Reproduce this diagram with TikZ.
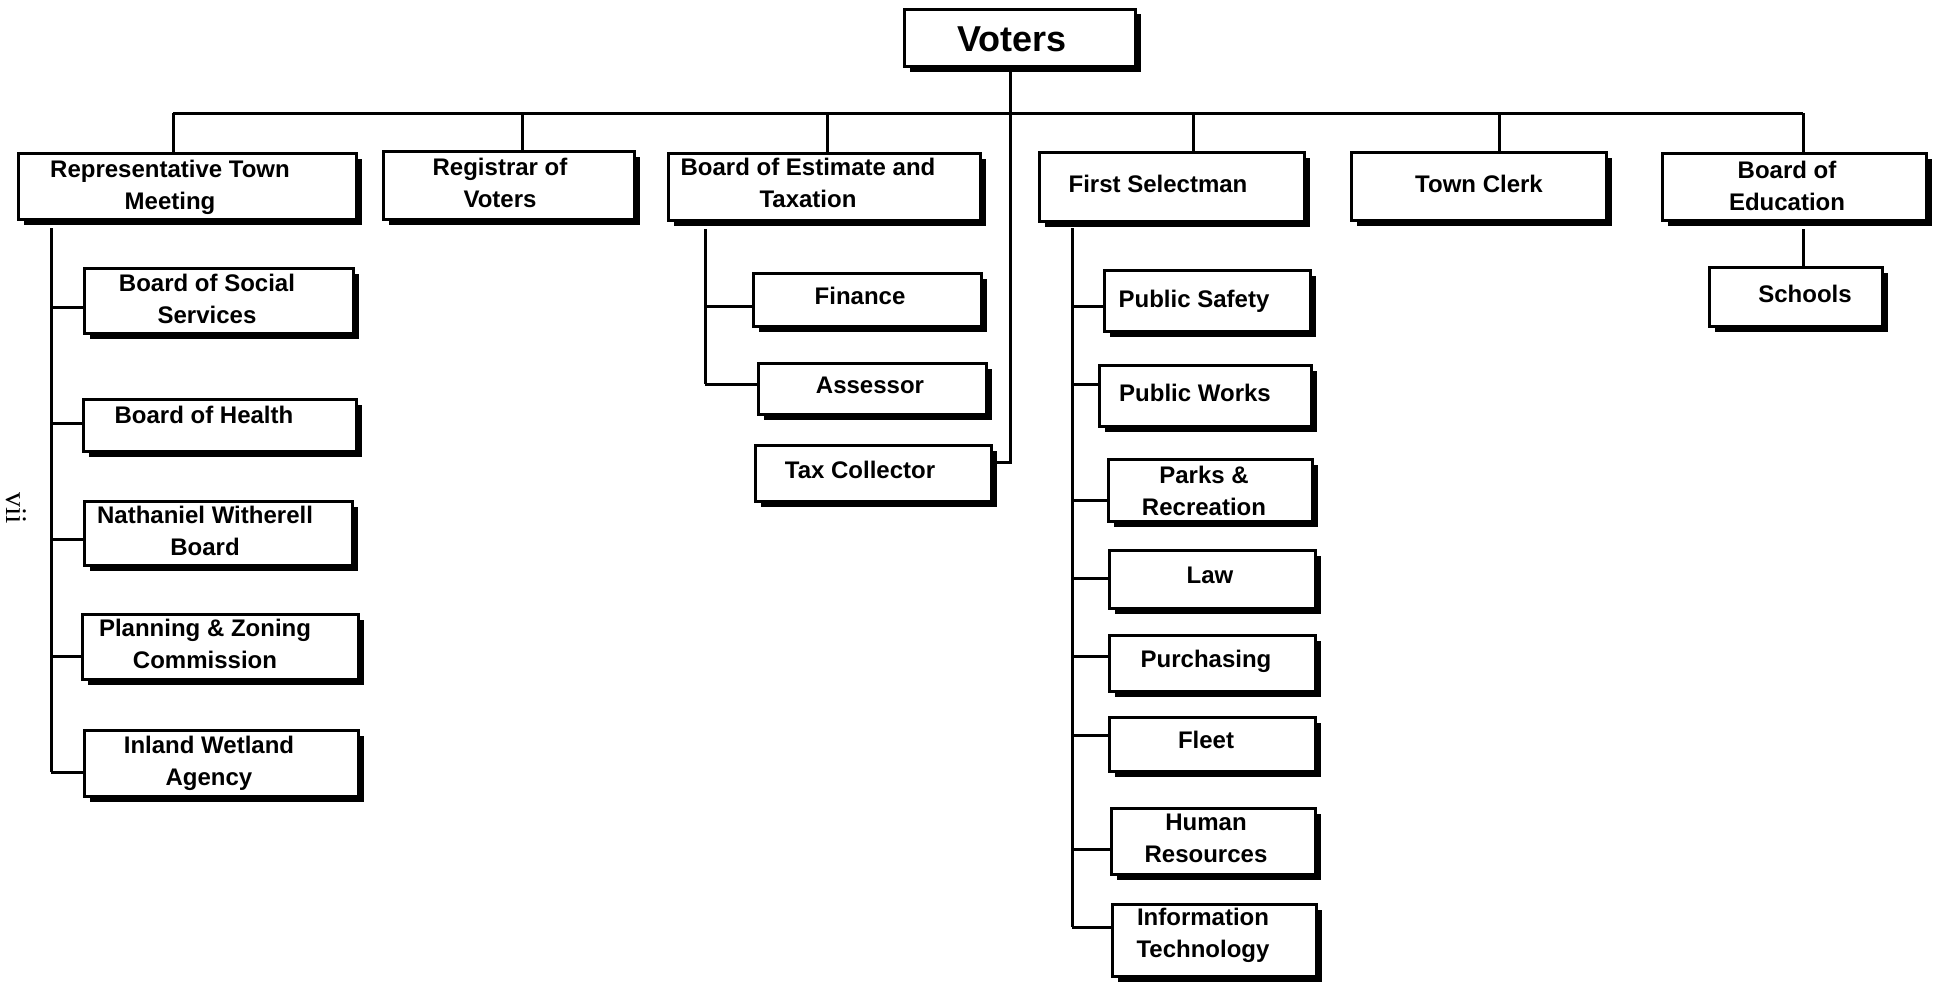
\documentclass[tikz,border=0pt]{standalone}
\usepackage{fontspec}
\setmainfont{Liberation Sans}
\newfontfamily\serifpn{Liberation Serif}
\usetikzlibrary{shadows,calc}
\pgfdeclarelayer{bg}
\pgfsetlayers{bg,main}
\tikzset{
  orgbox/.style={draw=black, line width=3pt, fill=white, inner sep=0pt,
    drop shadow={shadow xshift=5pt, shadow yshift=-5pt, fill=black, opacity=1}},
  conn/.style={draw=black, line width=3pt},
  lbl/.style={font=\fontsize{24}{32}\selectfont\bfseries, align=center, anchor=base, inner sep=0pt},
  biglbl/.style={font=\fontsize{36}{40}\selectfont\bfseries, anchor=base, inner sep=0pt},
}
\newcommand{\orgnode}[5]{\node[orgbox, minimum width={#4-#2-3}, minimum height={#5-#3-3}] (#1) at ({(#2+#4)/2},{(#3+#5)/2}) {};}
\begin{document}
\begin{tikzpicture}[x=1pt,y=-1pt]
\useasboundingbox (0,0) rectangle (1942,982);
% boxes
\orgnode{Voters}{903}{8}{1137}{68}
\orgnode{RTM}{17}{152}{358}{221}
\orgnode{Reg}{382}{150}{636}{221}
\orgnode{BET}{667}{152}{982}{222}
\orgnode{FS}{1038}{151}{1306}{223}
\orgnode{TC}{1350}{151}{1608}{222}
\orgnode{BoE}{1661}{152}{1928}{222}
\orgnode{BSS}{83}{267}{355}{335}
\orgnode{BoH}{82}{398}{358}{453}
\orgnode{NWB}{83}{500}{354}{567}
\orgnode{PZC}{81}{613}{360}{681}
\orgnode{IWA}{83}{729}{360}{798}
\orgnode{Fin}{752}{272}{983}{328}
\orgnode{Ass}{757}{362}{988}{416}
\orgnode{TaxC}{754}{444}{993}{503}
\orgnode{PS}{1103}{269}{1312}{333}
\orgnode{PW}{1098}{364}{1313}{428}
\orgnode{PR}{1107}{458}{1314}{523}
\orgnode{Law}{1108}{549}{1317}{610}
\orgnode{Pur}{1108}{634}{1317}{693}
\orgnode{Flt}{1108}{716}{1317}{773}
\orgnode{HR}{1110}{807}{1317}{876}
\orgnode{IT}{1111}{903}{1318}{978}
\orgnode{Sch}{1708}{266}{1884}{328}
% labels (base = baseline of the last line)
\node[biglbl] (tVoters) at (1012,52) {Voters};
\node[lbl] (tRTM) at (170,209) {Representative Town\\Meeting};
\node[lbl] (tReg) at (500,207) {Registrar of\\Voters};
\node[lbl] (tBET) at (808,207) {Board of Estimate and\\Taxation};
\node[lbl] (tFS) at (1158,192) {First Selectman};
\node[lbl] (tTC) at (1479,192) {Town Clerk};
\node[lbl] (tBoE) at (1787,210) {Board of\\Education};
\node[lbl] (tBSS) at (207,323) {Board of Social\\Services};
\node[lbl] (tBoH) at (204,423) {Board of Health};
\node[lbl] (tNWB) at (205,555) {Nathaniel Witherell\\Board};
\node[lbl] (tPZC) at (205,668) {Planning \& Zoning\\Commission};
\node[lbl] (tIWA) at (209,785) {Inland Wetland\\Agency};
\node[lbl] (tFin) at (860,304) {Finance};
\node[lbl] (tAss) at (870,393) {Assessor};
\node[lbl] (tTaxC) at (860,478) {Tax Collector};
\node[lbl] (tPS) at (1194,307) {Public Safety};
\node[lbl] (tPW) at (1195,401) {Public Works};
\node[lbl] (tPR) at (1204,515) {Parks \&\\Recreation};
\node[lbl] (tLaw) at (1210,583) {Law};
\node[lbl] (tPur) at (1206,667) {Purchasing};
\node[lbl] (tFlt) at (1206,748) {Fleet};
\node[lbl] (tHR) at (1206,862) {Human\\Resources};
\node[lbl] (tIT) at (1203,957) {Information\\Technology};
\node[lbl] (tSch) at (1805,302) {Schools};
\node[font=\serifpn\fontsize{30}{30}\selectfont, rotate=-90, inner sep=0pt] (pgno) at (16,508) {vii};
% connectors
\begin{pgfonlayer}{bg}
\coordinate (busL) at (173,113);
\coordinate (busR) at (1803,113);
\draw[conn] (busL) -- (busR);
\draw[conn] (busL) -- (busL |- RTM.north);
\coordinate (dReg) at (522,113);
\draw[conn] (dReg) -- (dReg |- Reg.north);
\coordinate (dBET) at (827,113);
\draw[conn] (dBET) -- (dBET |- BET.north);
\coordinate (dFS) at (1193,113);
\draw[conn] (dFS) -- (dFS |- FS.north);
\coordinate (dTC) at (1499,113);
\draw[conn] (dTC) -- (dTC |- TC.north);
\draw[conn] (busR) -- (busR |- BoE.north);
\draw[conn] ($(busR |- BoE.south)+(0,7)$) -- (busR |- Sch.north);
% Voters to Tax Collector
\coordinate (vx) at (1010,462);
\draw[conn] (Voters.south -| vx) -- (vx) -- (vx -| TaxC.east);
% RTM trunk
\coordinate (rT) at (51,772);
\draw[conn] ($(rT |- RTM.south)+(0,7)$) -- (rT);
\coordinate (r1) at (51,307); \draw[conn] (r1) -- (r1 -| BSS.west);
\coordinate (r2) at (51,423); \draw[conn] (r2) -- (r2 -| BoH.west);
\coordinate (r3) at (51,539); \draw[conn] (r3) -- (r3 -| NWB.west);
\coordinate (r4) at (51,656); \draw[conn] (r4) -- (r4 -| PZC.west);
\draw[conn] (rT) -- (rT -| IWA.west);
% BET trunk
\coordinate (bT) at (705,384);
\draw[conn] ($(bT |- BET.south)+(0,7)$) -- (bT);
\coordinate (b1) at (705,306); \draw[conn] (b1) -- (b1 -| Fin.west);
\draw[conn] (bT) -- (bT -| Ass.west);
% FS trunk
\coordinate (fT) at (1072,927);
\draw[conn] ($(fT |- FS.south)+(0,5)$) -- (fT);
\coordinate (f1) at (1072,306); \draw[conn] (f1) -- (f1 -| PS.west);
\coordinate (f2) at (1072,384); \draw[conn] (f2) -- (f2 -| PW.west);
\coordinate (f3) at (1072,500); \draw[conn] (f3) -- (f3 -| PR.west);
\coordinate (f4) at (1072,578); \draw[conn] (f4) -- (f4 -| Law.west);
\coordinate (f5) at (1072,656); \draw[conn] (f5) -- (f5 -| Pur.west);
\coordinate (f6) at (1072,735); \draw[conn] (f6) -- (f6 -| Flt.west);
\coordinate (f7) at (1072,849); \draw[conn] (f7) -- (f7 -| HR.west);
\draw[conn] (fT) -- (fT -| IT.west);
\end{pgfonlayer}
\end{tikzpicture}
\end{document}
